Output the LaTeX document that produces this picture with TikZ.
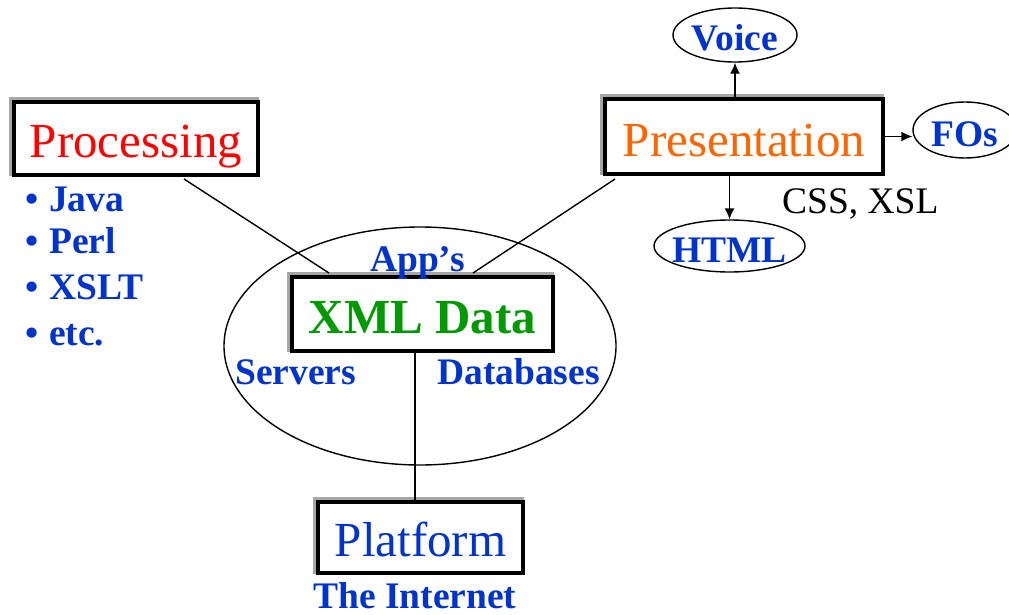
\documentclass[tikz,border=0pt]{standalone}
\usepackage{fontspec}
\setmainfont{Liberation Serif}
\usetikzlibrary{arrows.meta,shapes.geometric,backgrounds}
\definecolor{lblue}{HTML}{0033CC}
\definecolor{lred}{HTML}{FF0000}
\definecolor{lorange}{HTML}{FF6600}
\definecolor{lgreen}{HTML}{009900}
\newcommand\bigfont{\fontsize{49}{52}\selectfont}
\newcommand\midfont{\fontsize{37.5}{40}\selectfont}
\begin{document}
\begin{tikzpicture}[x=1pt,y=-1pt,
 box/.style={draw=black, line width=3.2pt, fill=white, inner sep=0pt, text height=42pt, text depth=4.9pt, font=\bigfont},
 oval/.style={draw=black, line width=1.4pt, ellipse, inner sep=0pt, inner ysep=-8pt, text depth=3.75pt, font=\midfont\bfseries, text=lblue},
 lbl/.style={font=\midfont\bfseries, text=lblue, inner sep=0pt, anchor=base west},
 conn/.style={line width=1.4pt},
 arr/.style={line width=1.4pt, -{Latex[length=11pt,width=10pt]}},
 shade/.style={draw=gray!70, line width=2.5pt}
]
\useasboundingbox (0,0) rectangle (1009,615);

\node[draw, ellipse, line width=1.4pt, minimum width=392pt, minimum height=238pt, inner sep=0pt] (cloud) at (420,346) {};

\node[box, minimum width=244pt, minimum height=73pt, text=lred] (proc) at (136,138.5) {Processing};
\node[box, minimum width=278pt, minimum height=75pt, text=lorange, text height=45pt] (pres) at (744,136.5) {Presentation};
\node[box, minimum width=261pt, minimum height=74pt, text=lgreen, font=\bigfont\bfseries, text height=43pt] (xml) at (422.5,314) {XML Data};
\node[box, minimum width=205pt, minimum height=71pt, text=lblue] (plat) at (420.5,537.5) {Platform};

\begin{scope}[on background layer]
\foreach \n in {proc,pres,xml,plat}
  \draw[shade] ([shift={(-2,-2)}]\n.north west) rectangle ([shift={(-2,-2)}]\n.south east);
\end{scope}

\node[oval, minimum width=124pt, minimum height=54pt, text height=34pt] (voice) at (735,35) {Voice};
\node[oval, minimum width=104pt, minimum height=56pt, inner xsep=-6pt, text height=37.5pt] (fos) at (965,130) {FOs};
\node[oval, minimum width=151pt, minimum height=52pt, inner xsep=-10pt, text height=36pt] (html) at (729.5,246) {HTML};

\node[lbl] (apps) at (370,271) {App’s};
\node[lbl] (serv) at (235,384) {Servers};
\node[lbl] (db) at (437,384) {Databases};
\node[lbl] (inet) at (313,608) {The Internet};
\node[lbl, font=\midfont, text=black] (css) at (782,213) {CSS, XSL};

\node[lbl] (b1) at (25,211) {\makebox[24pt][l]{•}Java};
\node[lbl] (b2) at (25,253) {\makebox[24pt][l]{•}Perl};
\node[lbl] (b3) at (25,299) {\makebox[24pt][l]{•}XSLT};
\node[lbl] (b4) at (25,345) {\makebox[24pt][l]{•}etc.};

\coordinate (pa) at (184,179);
\coordinate (pb) at (329,273);
\draw[conn] (pa) -- (pb);
\coordinate (qa) at (615,179);
\coordinate (qb) at (473,273);
\draw[conn] (qa) -- (qb);
\coordinate (vx) at (415,0);
\draw[conn] (xml.south -| vx) -- (plat.north -| vx);

\draw[arr] (pres.north -| voice.south) -- (voice.south);
\draw[arr] (pres.south -| html.north) -- (html.north);
\draw[arr] (pres.east) -- (pres.east -| fos.west);
\end{tikzpicture}
\end{document}
